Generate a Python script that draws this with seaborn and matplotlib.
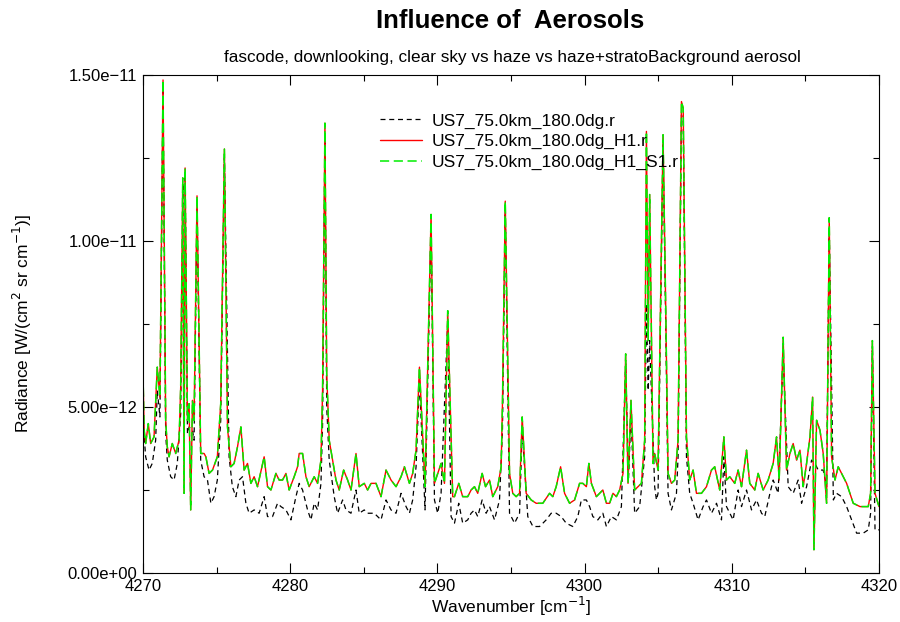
import numpy as np
import pandas as pd
import matplotlib
matplotlib.use('Agg')
import matplotlib.pyplot as plt
from matplotlib.ticker import FuncFormatter
import seaborn as sns

        # Values, radiance in units of 1e-12 W/(cm2 sr cm-1)

wn_clear = [4270.00, 4270.18, 4270.41, 4270.63, 4270.86, 4270.97, 4271.15, 4271.36, 4271.54, 4271.65,
            4271.88, 4272.11, 4272.33, 4272.56, 4272.74, 4272.86, 4273.02, 4273.13, 4273.36, 4273.47,
            4273.67, 4273.92, 4274.15, 4274.38, 4274.61, 4274.83, 4275.05, 4275.28, 4275.53, 4275.85,
            4276.07, 4276.31, 4276.53, 4276.76, 4276.99, 4277.21, 4277.55, 4277.89, 4278.23, 4278.46,
            4278.80, 4279.14, 4279.37, 4279.71, 4280.05, 4280.39, 4280.61, 4280.84, 4281.18, 4281.41,
            4281.63, 4281.86, 4282.09, 4282.20, 4282.36, 4282.48, 4282.65, 4282.99, 4283.22, 4283.56,
            4283.79, 4284.13, 4284.47, 4284.69, 4285.03, 4285.26, 4285.71, 4286.17, 4286.51, 4286.85,
            4287.19, 4287.53, 4287.87, 4288.10, 4288.32, 4288.55, 4288.78, 4289.16, 4289.57, 4289.80,
            4290.02, 4290.25, 4290.70, 4290.93, 4291.16, 4291.45, 4291.72, 4292.06, 4292.29, 4292.52,
            4292.74, 4293.04, 4293.31, 4293.54, 4293.88, 4294.22, 4294.42, 4294.61, 4294.90, 4295.24,
            4295.58, 4295.76, 4296.14, 4296.49, 4296.94, 4297.39, 4297.73, 4298.07, 4298.41, 4298.75,
            4299.20, 4299.54, 4299.78, 4300.12, 4300.34, 4300.56, 4300.90, 4301.24, 4301.48, 4301.82,
            4302.16, 4302.50, 4302.79, 4302.98, 4303.15, 4303.40, 4303.74, 4304.08, 4304.20, 4304.32,
            4304.42, 4304.76, 4304.88, 4304.99, 4305.33, 4305.51, 4305.67, 4305.90, 4306.24, 4306.35,
            4306.58, 4306.70, 4306.92, 4307.14, 4307.37, 4307.71, 4308.05, 4308.28, 4308.62, 4308.96,
            4309.30, 4309.46, 4309.64, 4310.09, 4310.43, 4310.66, 4311.00, 4311.34, 4311.68, 4312.02,
            4312.24, 4312.59, 4312.81, 4313.15, 4313.49, 4313.83, 4314.17, 4314.51, 4314.74, 4315.08,
            4315.42, 4315.65, 4315.87, 4316.21, 4316.44, 4316.62, 4316.90, 4317.12, 4317.46, 4317.80,
            4318.14, 4318.48, 4318.93, 4319.27, 4319.43, 4319.55, 4319.73, 4320.00]
rad_clear = [4.6, 3.5, 3.1, 3.3, 4.0, 5.5, 4.7, 14.5, 4.2, 3.4,
             2.9, 2.8, 3.3, 4.8, 11.6, 11.9, 4.2, 4.4, 4.3, 4.0,
             11.0, 3.4, 2.9, 2.8, 2.1, 2.3, 2.8, 4.6, 12.5, 3.5,
             2.6, 2.3, 2.8, 2.9, 2.1, 1.8, 1.9, 1.8, 2.3, 1.7,
             1.7, 2.1, 2.0, 1.9, 1.6, 2.3, 2.7, 2.5, 1.9, 1.6,
             2.1, 1.9, 2.7, 4.5, 13.2, 5.0, 3.4, 2.3, 1.8, 2.2,
             1.9, 1.8, 2.5, 1.8, 1.9, 1.8, 1.8, 1.6, 2.2, 1.9,
             1.8, 2.4, 2.0, 1.8, 2.2, 3.2, 5.8, 1.9, 10.5, 2.2,
             1.8, 2.4, 7.6, 1.7, 1.5, 2.1, 1.5, 1.6, 1.8, 1.9,
             1.7, 2.2, 1.8, 2.0, 1.6, 2.2, 4.3, 10.9, 1.8, 1.5,
             1.8, 4.3, 1.7, 1.4, 1.4, 1.6, 1.8, 1.8, 1.7, 1.5,
             1.4, 1.7, 2.2, 2.2, 2.0, 1.7, 1.6, 1.8, 1.4, 1.7,
             1.6, 2.0, 6.3, 2.8, 4.8, 1.8, 2.0, 3.5, 8.1, 5.5,
             7.0, 2.6, 2.2, 2.4, 12.9, 7.5, 2.4, 1.9, 2.4, 3.5,
             13.8, 13.6, 3.5, 2.4, 2.1, 1.6, 2.0, 2.2, 1.8, 2.1,
             1.6, 3.5, 2.0, 1.6, 2.5, 2.0, 2.5, 1.9, 2.2, 1.8,
             1.7, 2.4, 2.8, 2.4, 6.6, 2.6, 2.4, 2.8, 2.1, 2.6,
             3.4, 3.3, 3.1, 3.1, 2.6, 10.3, 2.2, 2.4, 2.3, 2.0,
             1.6, 1.2, 1.2, 1.3, 1.8, 6.7, 1.3, 1.3]

wn_haze = [4270.00, 4270.08, 4270.18, 4270.36, 4270.52, 4270.75, 4270.97, 4271.15, 4271.36, 4271.54,
           4271.65, 4271.77, 4271.99, 4272.22, 4272.45, 4272.56, 4272.70, 4272.79, 4272.86, 4273.02,
           4273.13, 4273.24, 4273.36, 4273.47, 4273.67, 4273.92, 4274.15, 4274.27, 4274.49, 4274.72,
           4275.05, 4275.28, 4275.53, 4275.74, 4275.97, 4276.19, 4276.42, 4276.65, 4276.87, 4277.10,
           4277.33, 4277.55, 4277.78, 4278.23, 4278.46, 4278.69, 4279.03, 4279.25, 4279.48, 4279.71,
           4279.93, 4280.27, 4280.50, 4280.61, 4280.84, 4281.07, 4281.29, 4281.63, 4281.86, 4282.09,
           4282.20, 4282.36, 4282.48, 4282.65, 4282.88, 4283.11, 4283.33, 4283.63, 4283.90, 4284.13,
           4284.47, 4284.69, 4285.03, 4285.26, 4285.49, 4285.83, 4286.17, 4286.51, 4286.85, 4287.19,
           4287.53, 4287.76, 4288.10, 4288.32, 4288.55, 4288.78, 4289.16, 4289.57, 4289.80, 4290.25,
           4290.48, 4290.70, 4291.04, 4291.16, 4291.45, 4291.72, 4292.06, 4292.29, 4292.52, 4292.74,
           4293.04, 4293.27, 4293.54, 4293.76, 4294.10, 4294.33, 4294.42, 4294.61, 4294.90, 4295.12,
           4295.35, 4295.58, 4295.76, 4296.03, 4296.37, 4296.71, 4297.16, 4297.62, 4297.84, 4298.07,
           4298.37, 4298.64, 4298.98, 4299.32, 4299.66, 4299.88, 4300.12, 4300.29, 4300.46, 4300.80,
           4301.02, 4301.24, 4301.48, 4301.70, 4301.93, 4302.16, 4302.38, 4302.61, 4302.79, 4302.95,
           4303.15, 4303.40, 4303.63, 4303.86, 4304.08, 4304.20, 4304.32, 4304.42, 4304.65, 4304.76,
           4304.99, 4305.33, 4305.51, 4305.67, 4305.90, 4306.12, 4306.35, 4306.58, 4306.70, 4306.92,
           4307.14, 4307.37, 4307.60, 4307.94, 4308.28, 4308.62, 4308.84, 4309.18, 4309.46, 4309.64,
           4309.86, 4310.20, 4310.43, 4310.66, 4311.00, 4311.22, 4311.56, 4311.79, 4312.13, 4312.47,
           4312.81, 4313.04, 4313.22, 4313.49, 4313.72, 4313.95, 4314.17, 4314.40, 4314.63, 4314.85,
           4315.08, 4315.31, 4315.49, 4315.58, 4315.76, 4315.99, 4316.21, 4316.44, 4316.62, 4316.78,
           4317.01, 4317.23, 4317.46, 4317.80, 4318.25, 4318.71, 4319.27, 4319.43, 4319.55, 4319.73,
           4320.00]
rad_haze = [6.0, 4.3, 3.9, 4.5, 3.9, 4.1, 6.2, 5.3, 14.85, 4.6,
            3.8, 3.5, 3.9, 3.6, 4.0, 5.6, 11.9, 2.4, 12.2, 4.6,
            5.1, 1.9, 5.2, 4.6, 11.36, 3.6, 3.6, 3.5, 3.0, 3.1,
            3.5, 5.1, 12.77, 4.4, 3.2, 3.3, 3.8, 4.4, 3.1, 3.3,
            2.7, 2.9, 2.6, 3.5, 2.6, 2.5, 3.0, 2.8, 2.8, 3.0,
            2.5, 2.9, 3.2, 3.6, 3.6, 2.9, 2.6, 2.9, 2.7, 3.4,
            5.5, 13.55, 6.0, 4.0, 3.4, 2.8, 2.5, 3.1, 2.8, 2.5,
            3.6, 2.6, 2.7, 2.5, 2.7, 2.7, 2.3, 3.1, 2.8, 2.6,
            2.9, 3.2, 2.7, 3.0, 3.7, 6.2, 2.6, 10.8, 2.7, 3.3,
            2.7, 7.9, 2.3, 2.3, 2.7, 2.3, 2.3, 2.5, 2.6, 2.4,
            3.0, 2.6, 2.8, 2.3, 2.6, 3.2, 5.1, 11.2, 3.0, 2.4,
            2.3, 2.4, 4.7, 2.4, 2.2, 2.1, 2.1, 2.4, 2.3, 2.6,
            3.2, 2.4, 2.1, 2.2, 2.7, 2.7, 2.6, 3.3, 2.7, 2.3,
            2.4, 2.5, 2.1, 2.1, 2.4, 2.3, 2.5, 3.0, 6.6, 2.7,
            5.2, 2.5, 2.6, 2.7, 4.0, 13.3, 7.0, 11.4, 3.3, 3.6,
            3.1, 13.2, 8.0, 3.0, 2.7, 2.8, 4.0, 14.2, 14.0, 4.1,
            2.8, 3.1, 2.4, 2.4, 2.6, 3.1, 3.2, 2.5, 4.1, 2.8,
            2.9, 2.7, 3.1, 2.6, 3.7, 2.7, 2.5, 3.0, 2.5, 2.8,
            3.3, 4.1, 2.8, 7.1, 3.1, 3.6, 3.9, 3.4, 3.7, 2.6,
            3.3, 4.1, 5.3, 0.7, 4.6, 4.3, 3.6, 2.1, 10.7, 3.5,
            2.8, 3.2, 3.0, 2.7, 2.1, 2.0, 2.0, 2.4, 7.0, 2.4,
            2.0]

        # haze + strato background is indistinguishable from haze at this scale
rad_strato = list(rad_haze)

labels = ['US7_75.0km_180.0dg.r', 'US7_75.0km_180.0dg_H1.r', 'US7_75.0km_180.0dg_H1_S1.r']
x_ticks = [4270, 4280, 4290, 4300, 4310, 4320]
x_minor = [4275, 4285, 4295, 4305, 4315]
y_ticks = [0.0, 5e-12, 1e-11, 1.5e-11]
y_minor = [2.5e-12, 7.5e-12, 1.25e-11]

df_clear = pd.DataFrame({'wn': wn_clear, 'rad': np.array(rad_clear) * 1e-12})
df_haze = pd.DataFrame({'wn': wn_haze, 'rad': np.array(rad_haze) * 1e-12})
df_strato = pd.DataFrame({'wn': wn_haze, 'rad': np.array(rad_strato) * 1e-12})

sns.set_style("ticks")
plt.rcParams['font.family'] = ['Liberation Sans', 'DejaVu Sans']
plt.rcParams['text.color'] = 'black'
plt.rcParams['axes.labelcolor'] = 'black'
plt.rcParams['xtick.color'] = 'black'
plt.rcParams['ytick.color'] = 'black'

fig = plt.figure(figsize=(9, 6.22), dpi=100)
ax = fig.add_axes([143 / 900, 1 - 573 / 622, 736 / 900, 498 / 622])

sns.lineplot(data=df_clear, x='wn', y='rad', ax=ax, color='black', linewidth=0.9,
             linestyle=(0, (4, 3)), label=labels[0], estimator=None, sort=False)
sns.lineplot(data=df_haze, x='wn', y='rad', ax=ax, color='#ff0000', linewidth=1.0,
             label=labels[1], estimator=None, sort=False)
sns.lineplot(data=df_strato, x='wn', y='rad', ax=ax, color='#00ee00', linewidth=1.1,
             linestyle=(0, (6, 3)), label=labels[2], estimator=None, sort=False)

ax.set_xlim(4270, 4320)
ax.set_ylim(0, 1.5e-11)
ax.set_xticks(x_ticks)
ax.set_xticks(x_minor, minor=True)
ax.set_yticks(y_ticks)
ax.set_yticks(y_minor, minor=True)
ax.yaxis.set_major_formatter(FuncFormatter(lambda v, p: f'{v:.2e}'.replace('-', '\u2212')))
ax.tick_params(which='both', direction='in', top=True, right=True, labelsize=12, color='black')
ax.tick_params(which='major', length=7, width=0.8, pad=4)
ax.tick_params(which='minor', length=4, width=0.8)
for s in ax.spines.values():
    s.set_color('black')
    s.set_linewidth(0.8)

ax.set_xlabel('Wavenumber [cm$^{-1}$]', fontsize=12.5, labelpad=1)
ax.set_ylabel('Radiance [W/(cm$^2$ sr cm$^{-1}$)]', fontsize=12.5, labelpad=24)

ax.legend(loc='upper left', bbox_to_anchor=(0.3125, 0.937), frameon=False, fontsize=12.5,
          handlelength=2.4, handletextpad=0.57, labelspacing=0.32, borderaxespad=0)

fig.text(0.567, 0.966, 'Influence of  Aerosols', ha='center', va='center', fontsize=18.5, fontweight='bold')
fig.text(0.569, 0.907, 'fascode, downlooking, clear sky vs haze vs haze+stratoBackground aerosol',
         ha='center', va='center', fontsize=12.3)

fig.savefig('out.png', dpi=100)
